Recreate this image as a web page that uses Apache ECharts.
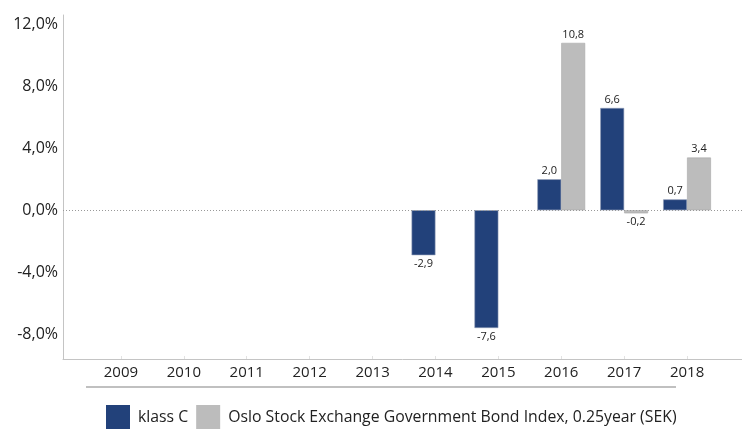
<!DOCTYPE html>
<html>
<head>
<meta charset="utf-8">
<script src="https://cdn.jsdelivr.net/npm/echarts@6/dist/echarts.min.js"></script>
<style>
  html, body { margin: 0; padding: 0; background: #fff; }
  #chart { width: 742px; height: 438px; }
</style>
</head>
<body>
<div id="chart"></div>
<script>
// data
var years = ['2009', '2010', '2011', '2012', '2013', '2014', '2015', '2016', '2017', '2018'];
var fundName = 'klass C';
var indexName = 'Oslo Stock Exchange Government Bond Index, 0.25year (SEK)';
var fundValues = [null, null, null, null, null, -2.9, -7.6, 2.0, 6.6, 0.7];
var indexValues = [null, null, null, null, null, null, null, 10.8, -0.2, 3.4];
var yTicks = [-8, -4, 0, 4, 8, 12];

var FONT = 'Open Sans';
var TEXT = '#222';
var AXIS = '#c4c4c4';
var NAVY = '#22417a';
var GREY = '#bcbcbc';

function fmt(v) { return v.toFixed(1).replace('.', ','); }

function toItems(arr) {
  return arr.map(function (v) {
    if (v === null) return null;
    return { value: v, label: { position: v < 0 ? 'bottom' : 'top' } };
  });
}

var chart = echarts.init(document.getElementById('chart'));
var option = {
  animation: false,
  textStyle: { fontFamily: FONT },
  grid: [
    { left: 63, right: 0, top: 15, bottom: 79 },       // frame + y labels
    { left: 89.5, right: 23.5, top: 15, bottom: 79 }   // bars
  ],
  xAxis: [
    { gridIndex: 0, type: 'value', min: 0, max: 1,
      axisLine: { show: true, onZero: false, lineStyle: { color: AXIS } },
      axisTick: { show: false }, axisLabel: { show: false }, splitLine: { show: false } },
    { gridIndex: 1, type: 'category', data: years,
      axisLine: { show: false, onZero: false },
      axisTick: { show: true, inside: true, alignWithLabel: true, length: 3, lineStyle: { color: '#e2e2e2' } },
      axisLabel: { color: TEXT, fontSize: 15, fontFamily: FONT, margin: 6 } }
  ],
  yAxis: [
    { gridIndex: 0, type: 'value', min: -9.6, max: 12.6, interval: 0.4,
      axisLine: { show: true, lineStyle: { color: AXIS } },
      axisTick: { show: false }, splitLine: { show: false },
      axisLabel: {
        color: TEXT, fontSize: 16, fontFamily: FONT, margin: 5,
        formatter: function (v) {
          var r = Math.round(v * 10) / 10;
          return yTicks.indexOf(r) >= 0 ? fmt(r) + '%' : '';
        }
      } },
    { gridIndex: 1, type: 'value', min: -9.6, max: 12.6, show: false }
  ],
  legend: {
    left: 106, top: 405, padding: 0,
    itemWidth: 24, itemHeight: 24, itemGap: 8,
    icon: 'rect',
    itemStyle: { borderWidth: 0 },
    textStyle: { color: TEXT, fontSize: 15.8, fontFamily: FONT, padding: [0, 0, 0, 3] },
    data: [fundName, indexName]
  },
  graphic: [
    { type: 'line', shape: { x1: 86, y1: 387, x2: 676, y2: 387 },
      style: { stroke: '#c0c0c0', lineWidth: 2 } }
  ],
  series: [
    { type: 'line', xAxisIndex: 0, yAxisIndex: 0, data: [], silent: true,
      markLine: { symbol: 'none', silent: true, label: { show: false },
        lineStyle: { color: '#999', type: [1, 2], width: 1 },
        data: [{ yAxis: 0 }] } },
    { name: fundName, type: 'bar', xAxisIndex: 1, yAxisIndex: 1,
      data: toItems(fundValues), barGap: '0%', barCategoryGap: '24%',
      itemStyle: { color: NAVY, borderColor: '#8d9bb5', borderWidth: 0.6 },
      label: { show: true, color: TEXT, fontSize: 11, fontFamily: FONT, distance: 3,
        formatter: function (p) { return fmt(p.value); } } },
    { name: indexName, type: 'bar', xAxisIndex: 1, yAxisIndex: 1,
      data: toItems(indexValues), barGap: '0%', barCategoryGap: '24%',
      itemStyle: { color: GREY, borderColor: '#a8a8a8', borderWidth: 0.6 },
      label: { show: true, color: TEXT, fontSize: 11, fontFamily: FONT, distance: 3,
        formatter: function (p) { return fmt(p.value); } } }
  ]
};
chart.setOption(option);
</script>
</body>
</html>
